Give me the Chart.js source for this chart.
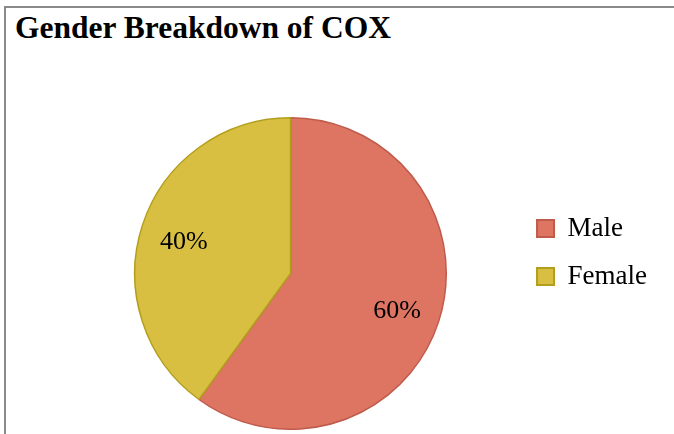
<!DOCTYPE html>
<html>
<head>
<meta charset="utf-8">
<script src="https://cdn.jsdelivr.net/npm/chart.js@4.4.1/dist/chart.umd.min.js"></script>
<style>
  html, body { margin: 0; padding: 0; background: #fff; overflow: hidden; }
  #wrap { position: relative; width: 674px; height: 434px; }
  #frame { position: absolute; left: 4px; top: 6px; width: 700px; height: 460px;
           border-left: 2px solid #8a8a8a; border-top: 2px solid #8a8a8a; box-sizing: border-box; }
  #title { position: absolute; left: 15px; top: 11px; margin: 0;
           font-family: "Liberation Serif", serif; font-weight: bold; font-size: 31.5px;
           line-height: 34px; color: #000; white-space: nowrap; }
  canvas { position: absolute; left: 0; top: 0; }
</style>
</head>
<body>
<div id="wrap">
  <div id="frame"></div>
  <div id="title">Gender Breakdown of COX</div>
  <canvas id="c" width="674" height="434"></canvas>
</div>
<script>
const categories = ["Male", "Female"];
const values = [60, 40];
const valueLabels = ["60%", "40%"];
const fillColors = ["#DE7563", "#D8BF41"];
const borderColors = ["#BF5B4B", "#B29E1C"];

const pctLabels = {
  id: 'pctLabels',
  afterDatasetsDraw(chart) {
    const ctx = chart.ctx;
    const meta = chart.getDatasetMeta(0);
    ctx.save();
    ctx.font = '26px "Liberation Serif", serif';
    ctx.fillStyle = '#000';
    ctx.textAlign = 'center';
    ctx.textBaseline = 'middle';
    meta.data.forEach((arc, i) => {
      const p = arc.getProps(['x', 'y', 'startAngle', 'endAngle', 'outerRadius'], true);
      const mid = (p.startAngle + p.endAngle) / 2;
      const r = p.outerRadius * 0.72;
      ctx.fillText(valueLabels[i], p.x + Math.cos(mid) * r, p.y + Math.sin(mid) * r + 3);
    });
    ctx.restore();
  }
};

new Chart(document.getElementById('c'), {
  type: 'pie',
  data: {
    labels: categories,
    datasets: [{
      data: values,
      backgroundColor: fillColors,
      borderColor: borderColors,
      borderWidth: 1.5
    }]
  },
  options: {
    responsive: false,
    animation: false,
    devicePixelRatio: 1,
    layout: { padding: { top: 117, bottom: 4, left: 65, right: 17 } },
    plugins: {
      title: { display: false },
      tooltip: { enabled: false },
      legend: {
        position: 'right',
        align: 'start',
        title: { display: true, text: '', font: { size: 12, lineHeight: 1 }, padding: { top: 0, bottom: 65 } },
        labels: {
          boxWidth: 17,
          boxHeight: 17,
          padding: 21,
          color: '#000',
          font: { family: '"Liberation Serif", serif', size: 27 },
          generateLabels(chart) {
            const ds = chart.data.datasets[0];
            return chart.data.labels.map((l, i) => ({
              text: l,
              fillStyle: ds.backgroundColor[i],
              strokeStyle: ds.borderColor[i],
              fontColor: '#000',
              lineWidth: 2,
              hidden: false,
              index: i
            }));
          }
        }
      }
    }
  },
  plugins: [pctLabels]
});
</script>
</body>
</html>
